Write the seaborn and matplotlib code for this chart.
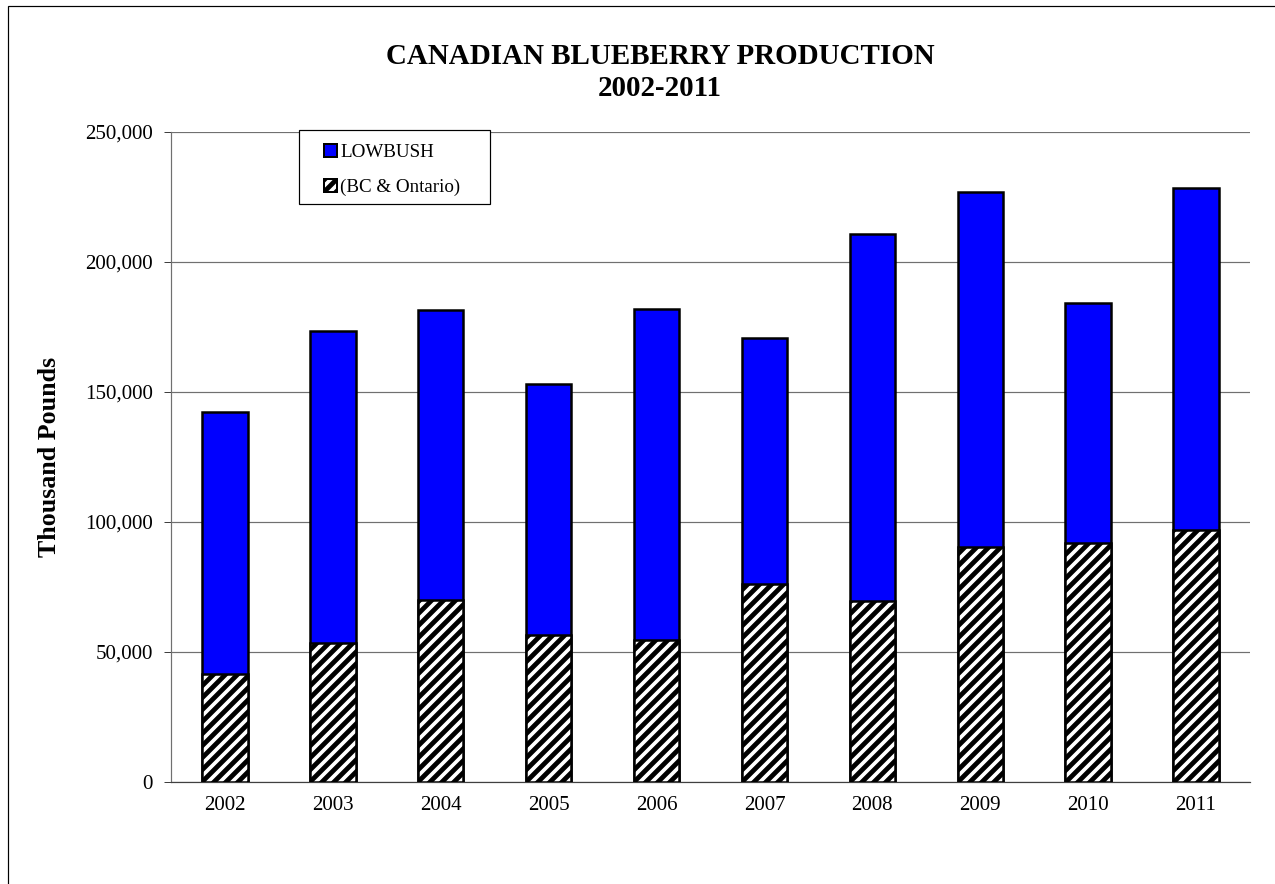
import matplotlib
matplotlib.use("Agg")
import matplotlib.pyplot as plt
import matplotlib.patches as mpatches
from matplotlib.ticker import FuncFormatter, FixedLocator
import seaborn as sns
import pandas as pd

years = ["2002", "2003", "2004", "2005", "2006", "2007", "2008", "2009", "2010", "2011"]
total_production = [142300, 173400, 181400, 153100, 182000, 170800, 210600, 226900, 184300, 228400]
bc_ontario = [41500, 53500, 70100, 56400, 54500, 76000, 69800, 90400, 92000, 96800]
legend_labels = ["LOWBUSH", "(BC & Ontario)"]
y_ticks = [0, 50000, 100000, 150000, 200000, 250000]

df = pd.DataFrame({"year": years, "total": total_production, "bc": bc_ontario})

sns.set_style("white")
plt.rcParams["font.family"] = ["Liberation Serif", "DejaVu Serif"]
plt.rcParams["hatch.linewidth"] = 4.8
for k in ["text.color", "axes.labelcolor", "xtick.color", "ytick.color"]:
    plt.rcParams[k] = "black"

DPI = 72
W, H = 1275, 884
fig = plt.figure(figsize=(W / DPI, H / DPI), dpi=DPI)
ax = fig.add_axes([171 / W, 1 - 782 / H, (1250 - 171) / W, (782 - 132) / H])

sns.barplot(data=df, x="year", y="total", color="#0000FF", saturation=1,
            edgecolor="black", linewidth=2.5, width=0.42, ax=ax, zorder=3)
sns.barplot(data=df, x="year", y="bc", color="white", saturation=1,
            edgecolor="black", linewidth=2.5, width=0.42, hatch="//", ax=ax, zorder=4)

ax.set_xlim(-0.5, len(years) - 0.5)
ax.set_ylim(0, 250000)
ax.yaxis.set_major_locator(FixedLocator(y_ticks))
ax.yaxis.set_major_formatter(FuncFormatter(lambda v, p: f"{int(v):,}"))
ax.grid(axis="y", color="#707070", linewidth=1.2, zorder=0)
ax.grid(axis="x", visible=False)
ax.set_axisbelow(True)

ax.set_xticks(range(len(years)))
ax.set_xticklabels(years)
ax.set_xticks([i - 0.5 for i in range(len(years) + 1)], minor=True)
ax.tick_params(axis="x", which="major", length=0, pad=14, labelsize=21)
ax.tick_params(axis="x", which="minor", length=7, width=1, color="#404040", direction="out")
ax.tick_params(axis="y", which="major", length=7, width=1, color="#404040",
               direction="out", pad=11, labelsize=21, left=True)

for s in ["top", "right"]:
    ax.spines[s].set_visible(False)
ax.spines["left"].set_color("#707070")
ax.spines["left"].set_linewidth(1.2)
ax.spines["bottom"].set_color("#404040")
ax.spines["bottom"].set_linewidth(1.2)

ax.set_xlabel("")
ax.set_ylabel("Thousand Pounds", fontsize=26, fontweight="bold", labelpad=24)

fig.text(660 / W, 1 - 57 / H, "CANADIAN BLUEBERRY PRODUCTION", ha="center", va="center",
         fontsize=29, fontweight="bold")
fig.text(660 / W, 1 - 89 / H, "2002-2011", ha="center", va="center",
         fontsize=29, fontweight="bold")

# legend frame drawn as a figure rectangle
frame = mpatches.Rectangle((299 / W, 1 - 204 / H), (490 - 299) / W, (204 - 130) / H,
                           transform=fig.transFigure, facecolor="white", edgecolor="black",
                           linewidth=1.2, zorder=9)
fig.patches.append(frame)

handles = [
    mpatches.Patch(facecolor="#0000FF", edgecolor="black", linewidth=2),
    mpatches.Patch(facecolor="white", edgecolor="black", linewidth=2, hatch="//"),
]
leg = fig.legend(handles, legend_labels, loc="center left",
                 bbox_to_anchor=(324 / W, 1 - 170 / H), borderaxespad=0, borderpad=0,
                 fontsize=19, handlelength=0.68, handleheight=0.68, handletextpad=0.18,
                 labelspacing=0.95, frameon=False)
leg.set_zorder(10)

border = mpatches.Rectangle((8 / W, -0.05), 1.1, 1 - 6 / H + 0.05, transform=fig.transFigure,
                            fill=False, edgecolor="black", linewidth=1.2)
fig.patches.append(border)

fig.savefig("out.png", dpi=DPI)
